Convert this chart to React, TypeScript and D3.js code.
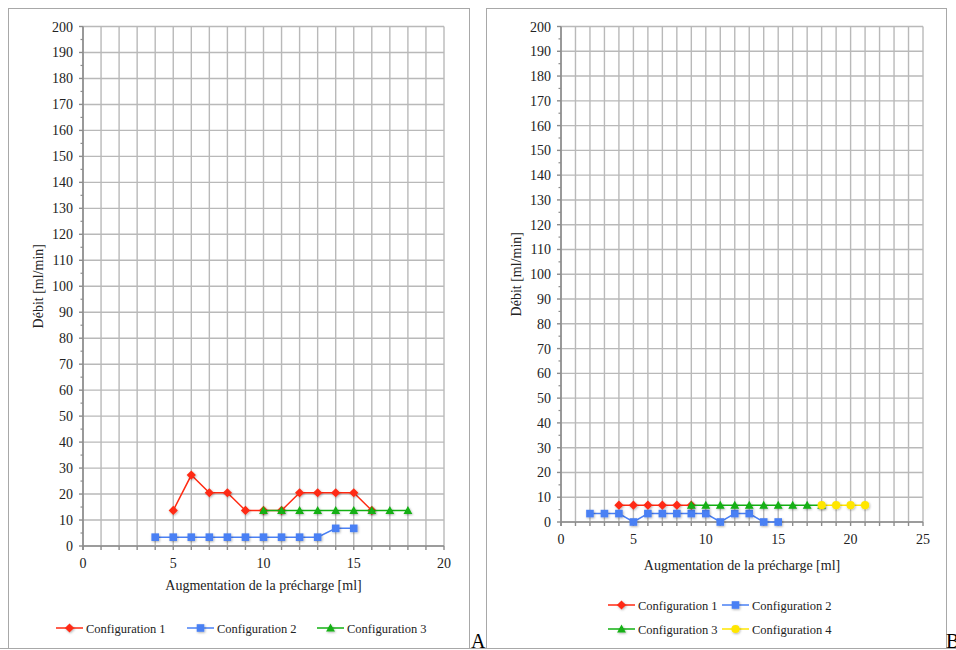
import React from "react";
import * as d3 from "d3";

const yTickValues = [0, 10, 20, 30, 40, 50, 60, 70, 80, 90, 100, 110, 120, 130, 140, 150, 160, 170, 180, 190, 200];
const leftXTicks = [0, 5, 10, 15, 20];
const rightXTicks = [0, 5, 10, 15, 20, 25];

const seriesNames = ["Configuration 1", "Configuration 2", "Configuration 3", "Configuration 4"];
const seriesColors = ["#ff2a12", "#4a80f4", "#12b012", "#ffe600"];
const seriesShapes = ["diamond", "square", "triangle", "circle"];

// Chart A
const a1: [number, number][] = [[5, 13.7], [6, 27.3], [7, 20.5], [8, 20.5], [9, 13.7], [10, 13.7], [11, 13.7], [12, 20.5], [13, 20.5], [14, 20.5], [15, 20.5], [16, 13.7]];
const a2: [number, number][] = [[4, 3.4], [5, 3.4], [6, 3.4], [7, 3.4], [8, 3.4], [9, 3.4], [10, 3.4], [11, 3.4], [12, 3.4], [13, 3.4], [14, 6.8], [15, 6.8]];
const a3: [number, number][] = [[10, 13.7], [11, 13.7], [12, 13.7], [13, 13.7], [14, 13.7], [15, 13.7], [16, 13.7], [17, 13.7], [18, 13.7]];

// Chart B
const b1: [number, number][] = [[4, 6.8], [5, 6.8], [6, 6.8], [7, 6.8], [8, 6.8], [9, 6.8]];
const b2: [number, number][] = [[2, 3.4], [3, 3.4], [4, 3.4], [5, 0], [6, 3.4], [7, 3.4], [8, 3.4], [9, 3.4], [10, 3.4], [11, 0], [12, 3.4], [13, 3.4], [14, 0], [15, 0]];
const b3: [number, number][] = [[9, 6.8], [10, 6.8], [11, 6.8], [12, 6.8], [13, 6.8], [14, 6.8], [15, 6.8], [16, 6.8], [17, 6.8], [18, 6.8]];
const b4: [number, number][] = [[18, 6.8], [19, 6.8], [20, 6.8], [21, 6.8]];

const FONT = "Liberation Serif, Times New Roman, Times, serif";
const txt = { fontFamily: FONT } as React.CSSProperties;

function Marker({ shape, x, y, color }: { shape: string; x: number; y: number; color: string }) {
  const f = "url(#shadow)";
  if (shape === "diamond") {
    const s = 4.6;
    return <path d={`M${x},${y - s}L${x + s},${y}L${x},${y + s}L${x - s},${y}Z`} fill={color} filter={f} />;
  }
  if (shape === "square") {
    const s = 3.8;
    return <rect x={x - s} y={y - s} width={2 * s} height={2 * s} fill={color} filter={f} />;
  }
  if (shape === "triangle") {
    const s = 4.4;
    return <path d={`M${x},${y - s}L${x + s},${y + s * 0.8}L${x - s},${y + s * 0.8}Z`} fill={color} filter={f} />;
  }
  return <circle cx={x} cy={y} r={4.1} fill={color} filter={f} />;
}

type ChartProps = {
  xMax: number;
  xRange: [number, number];
  yRange: [number, number];
  xTicks: number[];
  series: [number, number][][];
  yLabelX: number;
  xTickBaseline: number;
  xLabelBaseline: number;
  legend: { x: number; y: number }[];
};

function Chart({ xMax, xRange, yRange, xTicks, series, yLabelX, xTickBaseline, xLabelBaseline, legend }: ChartProps) {
  const x = d3.scaleLinear().domain([0, xMax]).range(xRange);
  const y = d3.scaleLinear().domain([0, 200]).range(yRange);
  const xs = d3.range(0, xMax + 1);
  const yMinor = d3.range(5, 200, 10);
  const line = d3.line<[number, number]>().x((d) => x(d[0])).y((d) => y(d[1]));
  return (
    <g>
      {xs.map((v) => (
        <line key={"gx" + v} x1={x(v)} x2={x(v)} y1={y(0)} y2={y(200)} stroke="#b9b9b9" strokeWidth={1.4} />
      ))}
      {yTickValues.map((v) => (
        <line key={"gy" + v} x1={x(0)} x2={x(xMax)} y1={y(v)} y2={y(v)} stroke="#b9b9b9" strokeWidth={1.4} />
      ))}
      <line x1={x(0)} x2={x(0)} y1={y(0) + 4} y2={y(200)} stroke="#8c8c8c" strokeWidth={1.6} />
      <line x1={x(0)} x2={x(xMax)} y1={y(0)} y2={y(0)} stroke="#8c8c8c" strokeWidth={1.6} />
      {yTickValues.map((v) => (
        <line key={"ty" + v} x1={x(0) - 4} x2={x(0)} y1={y(v)} y2={y(v)} stroke="#8c8c8c" strokeWidth={1.4} />
      ))}
      {yMinor.map((v) => (
        <line key={"tmy" + v} x1={x(0) - 2.5} x2={x(0)} y1={y(v)} y2={y(v)} stroke="#8c8c8c" strokeWidth={1.2} />
      ))}
      {xs.map((v) => (
        <line key={"tx" + v} x1={x(v)} x2={x(v)} y1={y(0)} y2={y(0) + 4} stroke="#8c8c8c" strokeWidth={1.4} />
      ))}
      {yTickValues.map((v) => (
        <text key={"ly" + v} x={x(0) - 10} y={y(v) + 5} textAnchor="end" fontSize={14} style={txt} fill="#222">
          {v}
        </text>
      ))}
      {xTicks.map((v) => (
        <text key={"lx" + v} x={x(v)} y={xTickBaseline} textAnchor="middle" fontSize={14} style={txt} fill="#222">
          {v}
        </text>
      ))}
      <text
        transform={`translate(${yLabelX},${(y(0) + y(200)) / 2}) rotate(-90)`}
        textAnchor="middle"
        fontSize={14}
        style={txt}
        fill="#222"
      >
        Débit [ml/min]
      </text>
      <text x={(x(0) + x(xMax)) / 2} y={xLabelBaseline} textAnchor="middle" fontSize={14} style={txt} fill="#222">
        Augmentation de la précharge [ml]
      </text>
      {series.map((s, i) => (
        <g key={"s" + i}>
          <path d={line(s) || ""} fill="none" stroke={seriesColors[i]} strokeWidth={1.5} />
          {s.map((d, j) => (
            <Marker key={j} shape={seriesShapes[i]} x={x(d[0])} y={y(d[1])} color={seriesColors[i]} />
          ))}
        </g>
      ))}
      {legend.map((p, i) => (
        <g key={"lg" + i}>
          <line x1={p.x} x2={p.x + 27} y1={p.y} y2={p.y} stroke={seriesColors[i]} strokeWidth={1.5} />
          <Marker shape={seriesShapes[i]} x={p.x + 13.5} y={p.y} color={seriesColors[i]} />
          <text x={p.x + 30} y={p.y + 4.5} fontSize={12.5} style={txt} fill="#222">
            {seriesNames[i]}
          </text>
        </g>
      ))}
    </g>
  );
}

export default function App() {
  return (
    <svg width={956} height={650} style={{ position: "absolute", left: 0, top: 0, background: "#fff" }}>
      <defs>
        <filter id="shadow" x="-50%" y="-50%" width="200%" height="200%">
          <feDropShadow dx={0.8} dy={1} stdDeviation={0.8} floodColor="#000" floodOpacity={0.3} />
        </filter>
      </defs>
      <rect x={0} y={0} width={956} height={650} fill="#fff" />
      <rect x={8.5} y={8.5} width={461} height={640} fill="none" stroke="#a8a8a8" strokeWidth={1} />
      <rect x={486.5} y={8.5} width={460} height={640} fill="none" stroke="#a8a8a8" strokeWidth={1} />
      <line x1={0} x2={956} y1={648.5} y2={648.5} stroke="#a8a8a8" strokeWidth={1} />
      <Chart
        xMax={20}
        xRange={[83, 444]}
        yRange={[546, 26.5]}
        xTicks={leftXTicks}
        series={[a1, a2, a3]}
        yLabelX={43}
        xTickBaseline={568}
        xLabelBaseline={590}
        legend={[
          { x: 56, y: 628 },
          { x: 187, y: 628 },
          { x: 317, y: 628 },
        ]}
      />
      <Chart
        xMax={25}
        xRange={[561, 923]}
        yRange={[522, 26.5]}
        xTicks={rightXTicks}
        series={[b1, b2, b3, b4]}
        yLabelX={521}
        xTickBaseline={544}
        xLabelBaseline={570}
        legend={[
          { x: 608, y: 605 },
          { x: 722, y: 605 },
          { x: 608, y: 629 },
          { x: 722, y: 629 },
        ]}
      />
      <text x={471} y={648} fontSize={20} style={txt} fill="#000">A</text>
      <text x={946} y={648} fontSize={20} style={txt} fill="#000">B</text>
    </svg>
  );
}
